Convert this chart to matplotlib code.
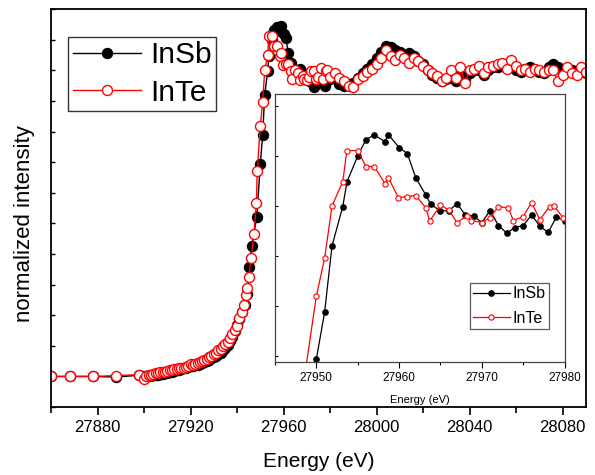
import numpy as np
import matplotlib
matplotlib.use("Agg")
import matplotlib.pyplot as plt
from matplotlib.ticker import MultipleLocator

plt.rcParams['font.family'] = ['Liberation Sans', 'DejaVu Sans']

# InSb spectrum (energy in eV, normalized intensity)
insb_e = [27860, 27868, 27878, 27888, 27898, 27900, 27901, 27902, 27903, 27904,
          27905, 27906, 27907, 27908, 27909, 27910, 27911, 27912, 27913, 27914,
          27915, 27916, 27917, 27918, 27919, 27920, 27921, 27922, 27923, 27924,
          27925, 27926, 27927, 27928, 27929, 27930, 27931, 27932, 27933, 27934,
          27935, 27936, 27937, 27938, 27939, 27940, 27941, 27942, 27943.4, 27944.2,
          27945.2, 27946.3, 27948.5, 27950.0, 27951.0, 27951.9, 27953.2, 27953.7, 27955.0, 27956.0,
          27957.0, 27958.3, 27958.7, 27960.0, 27961.0, 27962.0, 27963.2, 27963.8, 27964.9, 27966.0,
          27967.0, 27968.0, 27969.0, 27970.0, 27971.0, 27972.0, 27973.0, 27974.0, 27975.0, 27976.0,
          27977.0, 27978.0, 27979.0, 27980.0,
          27982, 27984, 27986, 27988, 27990, 27992, 27994, 27996, 27998, 28000,
          28002, 28004, 28006, 28008, 28010, 28012, 28014, 28016, 28018, 28020,
          28022, 28024, 28026, 28028, 28030, 28032, 28034, 28036, 28038, 28040,
          28042, 28044, 28046, 28048, 28050, 28052, 28054, 28056, 28058, 28060,
          28062, 28064, 28066, 28068, 28070, 28072, 28074, 28076, 28078, 28080,
          28082, 28084, 28086, 28088, 28090]
insb_mu = [0.000, 0.000, 0.000, -0.002, 0.004, 0.000, 0.000, 0.002, 0.003, 0.004,
           0.005, 0.006, 0.008, 0.009, 0.010, 0.012, 0.014, 0.016, 0.018, 0.020,
           0.022, 0.024, 0.026, 0.028, 0.030, 0.033, 0.035, 0.037, 0.039, 0.042,
           0.045, 0.048, 0.051, 0.055, 0.059, 0.063, 0.067, 0.072, 0.078, 0.085,
           0.093, 0.102, 0.115, 0.130, 0.148, 0.168, 0.188, 0.210, 0.232, 0.270,
           0.357, 0.426, 0.521, 0.693, 0.787, 0.920, 0.999, 1.048, 1.100, 1.133,
           1.142, 1.129, 1.143, 1.117, 1.105, 1.057, 1.023, 1.004, 0.991, 0.990,
           1.005, 0.982, 0.980, 0.967, 0.991, 0.961, 0.946, 0.957, 0.961, 0.982,
           0.960, 0.947, 0.978, 0.971,
           0.975, 0.955, 0.950, 0.955, 0.960, 0.975, 0.990, 1.005, 1.020, 1.040,
           1.060, 1.080, 1.075, 1.065, 1.060, 1.050, 1.055, 1.045, 1.030, 1.020,
           1.000, 0.985, 0.975, 0.965, 0.970, 0.975, 0.965, 0.985, 0.970, 0.990,
           1.000, 1.000, 0.985, 1.000, 1.010, 1.010, 1.015, 1.020, 1.010, 1.000,
           0.995, 1.005, 1.010, 1.000, 0.995, 0.990, 1.010, 1.020, 1.010, 0.995,
           1.000, 1.000, 0.995, 1.005, 0.990]

# InTe spectrum
inte_e = [27860, 27868, 27878, 27888, 27898, 27900, 27901, 27902, 27903, 27904,
          27905, 27906, 27907, 27908, 27909, 27910, 27911, 27912, 27913, 27914,
          27915, 27916, 27917, 27918, 27919, 27920, 27921, 27922, 27923, 27924,
          27925, 27926, 27927, 27928, 27929, 27930, 27931, 27932, 27933, 27934,
          27935, 27936, 27937, 27938, 27939, 27940, 27941, 27942, 27943, 27943.7,
          27944.3, 27945.0, 27946.0, 27947.3, 27948.3, 27948.7, 27950.0, 27951.0, 27951.9, 27953.2,
          27953.7, 27955.0, 27956.0, 27957.0, 27958.3, 27958.7, 27959.9, 27961.0, 27962.0, 27963.2,
          27963.7, 27965.0, 27966.0, 27967.0, 27968.2, 27968.7, 27970.0, 27971.0, 27972.0, 27973.2,
          27973.8, 27975.0, 27976.0, 27977.0, 27978.2, 27978.7, 27979.8,
          27982, 27984, 27986, 27988, 27990, 27992, 27994, 27996, 27998, 28000,
          28002, 28004, 28006, 28008, 28010, 28012, 28014, 28016, 28018, 28020,
          28022, 28024, 28026, 28028, 28030, 28032, 28034, 28036, 28038, 28040,
          28042, 28044, 28046, 28048, 28050, 28052, 28054, 28056, 28058, 28060,
          28062, 28064, 28066, 28068, 28070, 28072, 28074, 28076, 28078, 28080,
          28082, 28084, 28086, 28088, 28090]
inte_mu = [0.000, 0.000, 0.000, 0.003, 0.006, -0.008, 0.002, 0.004, 0.006, 0.008,
           0.010, 0.011, 0.013, 0.015, 0.016, 0.018, 0.020, 0.021, 0.023, 0.025,
           0.026, 0.027, 0.029, 0.031, 0.034, 0.040, 0.038, 0.041, 0.044, 0.047,
           0.050, 0.054, 0.058, 0.063, 0.068, 0.072, 0.077, 0.085, 0.091, 0.098,
           0.105, 0.112, 0.125, 0.140, 0.152, 0.165, 0.190, 0.212, 0.235, 0.265,
           0.290, 0.325, 0.387, 0.466, 0.566, 0.672, 0.819, 0.895, 1.000, 1.049,
           1.111, 1.111, 1.079, 1.079, 1.045, 1.057, 1.017, 1.019, 1.021, 0.997,
           0.970, 1.002, 0.992, 0.967, 0.980, 0.971, 0.967, 0.977, 0.999, 0.996,
           0.971, 0.979, 1.007, 0.973, 0.999, 1.000, 0.977,
           0.990, 0.975, 0.965, 0.950, 0.945, 0.970, 0.980, 0.995, 1.005, 1.020,
           1.040, 1.065, 1.045, 1.035, 1.050, 1.040, 1.025, 1.040, 1.030, 1.015,
           1.000, 0.990, 0.980, 0.965, 0.975, 1.000, 0.975, 1.010, 0.960, 1.000,
           1.005, 1.015, 0.990, 1.010, 1.015, 1.020, 1.025, 1.005, 1.035, 1.015,
           1.000, 1.005, 0.995, 1.005, 1.000, 0.995, 1.000, 1.000, 0.965, 0.985,
           1.010, 0.990, 0.985, 1.010, 0.995]

main_xticks = [27880, 27920, 27960, 28000, 28040, 28080]
inset_xticks = [27950, 27960, 27970, 27980]

fig = plt.figure(figsize=(5.95, 4.75), dpi=100)
ax = fig.add_axes([0.0857, 0.143, 0.899, 0.838])

ax.plot(insb_e, insb_mu, '-o', color='black', lw=1, ms=7.2, mfc='black', mec='black', label='InSb')
ax.plot(inte_e, inte_mu, '-o', color='red', lw=1, ms=7.2, mfc='white', mec='red', mew=1, label='InTe')

ax.set_xlim(27860, 28090)
ax.set_ylim(-0.1, 1.2)
ax.set_xticks(main_xticks)
ax.xaxis.set_minor_locator(MultipleLocator(20))
ax.yaxis.set_major_locator(MultipleLocator(0.1))
ax.set_yticklabels([])
ax.tick_params(axis='x', which='major', direction='out', length=6, width=1.2, labelsize=12)
ax.tick_params(axis='x', which='minor', direction='out', length=4, width=1.2)
ax.tick_params(axis='y', which='major', direction='in', length=3, width=1.0, left=True)
for s in ax.spines.values():
    s.set_linewidth(1.3)
ax.set_xlabel('Energy (eV)', fontsize=15, labelpad=12)
ax.set_ylabel('normalized intensity', fontsize=16)
ax.yaxis.set_label_coords(-0.03, 0.46)

leg = ax.legend(loc='upper left', bbox_to_anchor=(0.032, 0.93), borderaxespad=0,
                fontsize=21.5, frameon=True, fancybox=False, edgecolor='black',
                handlelength=2.3, handletextpad=0.3, borderpad=0.15, labelspacing=0.32)
leg.get_frame().set_linewidth(1.0)

# inset
ins = fig.add_axes([0.462, 0.238, 0.487, 0.564])
ins.plot(insb_e, insb_mu, '-o', color='black', lw=0.9, ms=3.8, mfc='black', mec='black', label='InSb')
ins.plot(inte_e, inte_mu, '-o', color='red', lw=0.9, ms=3.8, mfc='white', mec='red', mew=0.8, label='InTe')
ins.set_xlim(27945, 27980)
ins.set_ylim(0.688, 1.224)
ins.set_xticks(inset_xticks)
ins.xaxis.set_minor_locator(MultipleLocator(5))
ins.yaxis.set_major_locator(MultipleLocator(0.1))
ins.set_yticklabels([])
ins.set_xticklabels([str(t) for t in inset_xticks], fontsize=8.5)
ins.tick_params(axis='x', which='major', direction='out', length=4, width=0.8, pad=3)
ins.tick_params(axis='x', which='minor', direction='out', length=2.5, width=0.8)
ins.tick_params(axis='y', which='major', direction='in', length=2, width=0.8)
for s in ins.spines.values():
    s.set_linewidth(0.9)
    s.set_color('#444444')
ins.set_xlabel('Energy (eV)', fontsize=8, labelpad=8)

leg2 = ins.legend(loc='upper left', bbox_to_anchor=(0.672, 0.295), borderaxespad=0,
                  fontsize=11.5, frameon=True, fancybox=False,
                  edgecolor='#333333', handlelength=2.3, handletextpad=0.2, borderpad=0.2,
                  labelspacing=0.6)
leg2.get_frame().set_linewidth(0.9)

fig.savefig('out.png', dpi=100)
